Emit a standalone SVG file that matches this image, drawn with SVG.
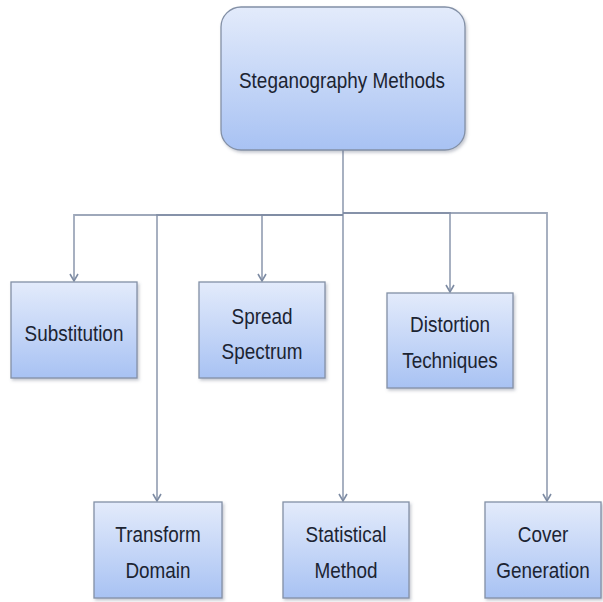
<svg xmlns="http://www.w3.org/2000/svg" width="603" height="602" viewBox="0 0 603 602">
<style>
.bg{fill:#ffffff}
.box{fill:url(#g);stroke:#8390a6;stroke-width:1.3}
.conn{fill:none;stroke:#7d8ba3;stroke-width:1.8;stroke-opacity:0.75}
.t{font-family:"Liberation Sans","Open Sans",Arial,sans-serif;font-size:22px;fill:#1c2432;text-anchor:middle;dominant-baseline:central}
</style>
<defs>
<linearGradient id="g" x1="0" y1="0" x2="0" y2="1">
<stop offset="0" stop-color="#e3ebfb"/>
<stop offset="1" stop-color="#a8c2f3"/>
</linearGradient>
<filter id="sh" x="-10%" y="-10%" width="125%" height="125%">
<feDropShadow dx="1.5" dy="2" stdDeviation="1.5" flood-color="#5a6478" flood-opacity="0.35"/>
</filter>
<marker id="arr" markerUnits="userSpaceOnUse" markerWidth="12" markerHeight="12" refX="10" refY="6" viewBox="0 0 12 12" orient="auto">
<path d="M3,2 L10,6 L3,10" fill="none" stroke="#7d8ba3" stroke-width="1.6"/>
</marker>
</defs>
<rect class="bg" x="0" y="0" width="603" height="602"/>
<g id="connectors">
<path class="conn" d="M343,150 V215"/>
<path class="conn" d="M343,215 H74 V281" marker-end="url(#arr)"/>
<path class="conn" d="M343,215 H157 V501" marker-end="url(#arr)"/>
<path class="conn" d="M343,215 H262 V281" marker-end="url(#arr)"/>
<path class="conn" d="M343,215 V501" marker-end="url(#arr)"/>
<path class="conn" d="M343,213 H450 V292" marker-end="url(#arr)"/>
<path class="conn" d="M343,213 H547 V501" marker-end="url(#arr)"/>
</g>
<g id="node-root">
<rect class="box" filter="url(#sh)" x="221" y="7" width="244" height="143" rx="20" ry="20"/>
<text class="t" transform="translate(342,80) scale(0.86,1)">Steganography Methods</text>
</g>
<g id="node-substitution">
<rect class="box" filter="url(#sh)" x="11" y="282" width="126" height="96"/>
<text class="t" transform="translate(74,333) scale(0.86,1)">Substitution</text>
</g>
<g id="node-spread">
<rect class="box" filter="url(#sh)" x="199" y="282" width="126" height="96"/>
<text class="t" transform="translate(262,316) scale(0.86,1)">Spread</text>
<text class="t" transform="translate(262,351) scale(0.86,1)">Spectrum</text>
</g>
<g id="node-distortion">
<rect class="box" filter="url(#sh)" x="387" y="293" width="126" height="95"/>
<text class="t" transform="translate(450,324) scale(0.86,1)">Distortion</text>
<text class="t" transform="translate(450,360) scale(0.86,1)">Techniques</text>
</g>
<g id="node-transform">
<rect class="box" filter="url(#sh)" x="94" y="502" width="128" height="96"/>
<text class="t" transform="translate(158,534) scale(0.86,1)">Transform</text>
<text class="t" transform="translate(158,570) scale(0.86,1)">Domain</text>
</g>
<g id="node-statistical">
<rect class="box" filter="url(#sh)" x="283" y="502" width="126" height="96"/>
<text class="t" transform="translate(346,534) scale(0.86,1)">Statistical</text>
<text class="t" transform="translate(346,570) scale(0.86,1)">Method</text>
</g>
<g id="node-cover">
<rect class="box" filter="url(#sh)" x="485" y="502" width="116" height="96"/>
<text class="t" transform="translate(543,534) scale(0.86,1)">Cover</text>
<text class="t" transform="translate(543,570) scale(0.86,1)">Generation</text>
</g>
</svg>
